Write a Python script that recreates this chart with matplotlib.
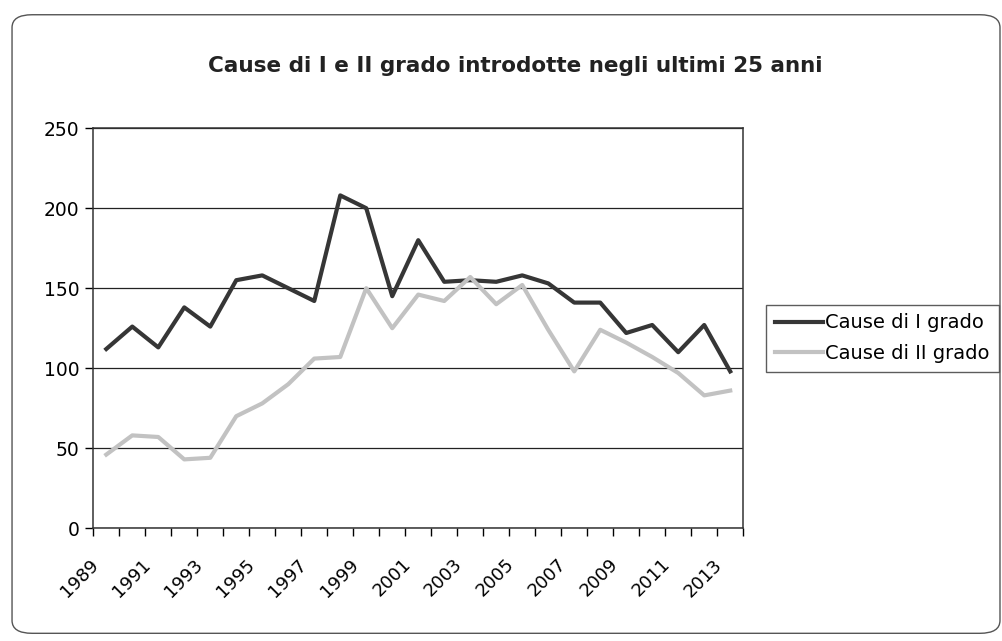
import matplotlib
matplotlib.use('Agg')
import matplotlib.pyplot as plt
from matplotlib.patches import FancyBboxPatch
import numpy as np

years = list(range(1989, 2014))
cause_I = [112, 126, 113, 138, 126, 155, 158, 150, 142, 208, 200, 145, 180,
           154, 155, 154, 158, 153, 141, 141, 122, 127, 110, 127, 98]
cause_II = [46, 58, 57, 43, 44, 70, 78, 90, 106, 107, 150, 125, 146,
            142, 157, 140, 152, 124, 98, 124, 116, 107, 97, 83, 86]
y_ticks = [0, 50, 100, 150, 200, 250]

fig = plt.figure(figsize=(10.03, 6.41), dpi=100)

# rounded chart border
border = FancyBboxPatch((0.012, 0.012), 0.985, 0.965,
                        boxstyle='round,pad=0,rounding_size=0.02',
                        transform=fig.transFigure, fill=False,
                        edgecolor='#555555', linewidth=1.0)
fig.patches.append(border)

ax = fig.add_axes([0.093, 0.176, 0.648, 0.624])
x = np.arange(len(years))
ax.plot(x, cause_I, color='#363636', linewidth=3.0, label='Cause di I grado')
ax.plot(x, cause_II, color='#c2c2c2', linewidth=3.0, label='Cause di II grado')

ax.set_xlim(-0.5, len(years) - 0.5)
ax.set_ylim(0, 250)
ax.set_yticks(y_ticks)
ax.yaxis.grid(True, color='#222222', linewidth=0.9)
ax.set_axisbelow(True)
ax.tick_params(axis='y', labelsize=13.5, length=6, width=1, direction='out', pad=4)

# category tick marks between categories, labels every other year
ax.set_xticks(np.arange(-0.5, len(years), 1.0))
ax.set_xticklabels([])
ax.tick_params(axis='x', length=6, width=1, direction='out')
for i in range(0, len(years), 2):
    ax.text(x[i] - 0.65, -17, str(years[i]), rotation=45, ha='right', va='top',
            fontsize=13, rotation_mode='anchor')

for side in ['top', 'right', 'left', 'bottom']:
    ax.spines[side].set_color('#333333')
    ax.spines[side].set_linewidth(1.1)

fig.text(0.514, 0.897, 'Cause di I e II grado introdotte negli ultimi 25 anni',
         ha='center', va='center', fontsize=15.5, fontweight='bold',
         color='#222222')

leg = ax.legend(loc='center left', bbox_to_anchor=(1.035, 0.475), fontsize=14,
                frameon=True, fancybox=False, edgecolor='#333333',
                handlelength=2.5, handletextpad=0.1, borderpad=0.45,
                labelspacing=0.6, borderaxespad=0)
leg.get_frame().set_linewidth(1.0)

fig.savefig('out.png', dpi=100)
